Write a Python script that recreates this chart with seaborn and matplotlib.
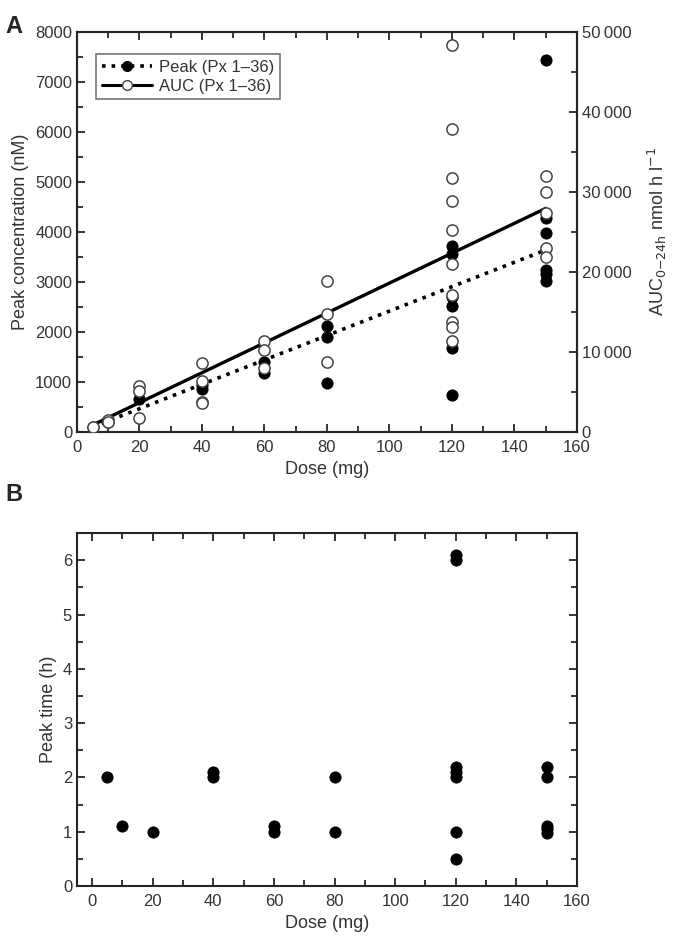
import matplotlib
matplotlib.use("Agg")
import pandas as pd
import matplotlib.pyplot as plt
import seaborn as sns
from matplotlib.ticker import MultipleLocator, FixedLocator
from matplotlib.lines import Line2D

# Panel A: peak concentration (nM), filled circles
peak_dose = [5, 10, 20, 40, 40, 60, 60, 80, 80, 80,
             120, 120, 120, 120, 120, 120,
             150, 150, 150, 150, 150, 150]
peak_conc = [100, 200, 660, 870, 950, 1410, 1180, 2120, 1910, 990,
             3720, 3570, 2700, 2520, 1690, 740,
             7440, 4290, 3990, 3250, 3170, 3030]

# Panel A: AUC 0-24h (nmol h/l), open circles
auc_dose = [5, 10, 10, 20, 20, 20, 40, 40, 40, 40, 60, 60, 60,
            80, 80, 80,
            120, 120, 120, 120, 120, 120, 120, 120, 120, 120,
            150, 150, 150, 150, 150]
auc_val = [625, 1500, 1250, 5800, 5170, 1750, 8630, 6420, 3800, 3690,
           11420, 10250, 8000,
           18920, 14750, 8750,
           48400, 37830, 31800, 28830, 25200, 21000, 17130, 13790, 13080, 11420,
           32000, 30040, 27420, 22960, 21920]

# fitted lines
fit_dose = [5, 150]
peak_fit = [100, 3640]
auc_fit = [875, 27960]

# Panel B: time to peak (h)
time_dose = [5, 10, 20, 40, 40, 60, 60, 80, 80,
             120, 120, 120, 120, 120, 120, 120,
             150, 150, 150, 150, 150]
peak_time = [2.0, 1.1, 1.0, 2.1, 2.0, 1.1, 1.0, 2.0, 1.0,
             6.1, 6.0, 2.2, 2.1, 2.0, 1.0, 0.5,
             2.2, 2.0, 1.1, 1.05, 0.97]

auc_ticks = [0, 10000, 20000, 30000, 40000, 50000]
auc_tick_labels = ["0", "10\u2009000", "20\u2009000", "30\u2009000", "40\u2009000", "50\u2009000"]

sns.set_style("ticks")
plt.rcParams['font.family'] = ['Liberation Sans', 'DejaVu Sans']
plt.rcParams['axes.linewidth'] = 1.5

peak_df = pd.DataFrame({"dose": peak_dose, "value": peak_conc})
auc_df = pd.DataFrame({"dose": auc_dose, "value": auc_val})
time_df = pd.DataFrame({"dose": time_dose, "value": peak_time})
fit_df = pd.DataFrame({"dose": fit_dose, "peak": peak_fit, "auc": auc_fit})

fig = plt.figure(figsize=(6.76, 9.4), dpi=100)
axA = fig.add_axes([0.1139, 0.5404, 0.7396, 0.4255])
axB = fig.add_axes([0.1139, 0.0574, 0.7396, 0.3755])

tick_col = "#333333"
ms = 65
fs_tick = 12
fs_lab = 13

# ---- panel A
sns.lineplot(data=fit_df, x="dose", y="peak", ax=axA, color="black",
             linestyle=":", linewidth=2.6, zorder=2)
sns.scatterplot(data=peak_df, x="dose", y="value", ax=axA, color="black",
                edgecolor="black", s=ms, zorder=3)
axA.set_xlim(0, 160)
axA.set_ylim(0, 8000)
axA.xaxis.set_major_locator(MultipleLocator(20))
axA.xaxis.set_minor_locator(MultipleLocator(10))
axA.yaxis.set_major_locator(MultipleLocator(1000))
axA.yaxis.set_minor_locator(MultipleLocator(500))
axA.tick_params(which="both", direction="in", top=True, right=False,
                width=1.3, labelsize=fs_tick, labelcolor=tick_col)
axA.tick_params(which="major", length=6)
axA.tick_params(which="minor", length=4)
axA.tick_params(axis="x", pad=6)
axA.set_xlabel("Dose (mg)", fontsize=fs_lab, color=tick_col)
axA.set_ylabel("Peak concentration (nM)", fontsize=fs_lab, color=tick_col)

ax2 = axA.twinx()
sns.lineplot(data=fit_df, x="dose", y="auc", ax=ax2, color="black",
             linestyle="-", linewidth=2.4, zorder=2)
sns.scatterplot(data=auc_df, x="dose", y="value", ax=ax2, facecolor="white",
                edgecolor="#444444", linewidth=1.1, s=ms, zorder=3)
ax2.set_ylim(0, 50000)
ax2.yaxis.set_major_locator(FixedLocator(auc_ticks))
ax2.set_yticklabels(auc_tick_labels)
ax2.yaxis.set_minor_locator(MultipleLocator(5000))
ax2.tick_params(which="both", direction="in", width=1.3, labelsize=fs_tick,
                labelcolor=tick_col)
ax2.tick_params(which="major", length=6)
ax2.tick_params(which="minor", length=4)
ax2.set_ylabel(r"AUC$_{0\mathrm{-}24\mathrm{h}}$ nmol h l$^{-1}$", fontsize=fs_lab,
               color=tick_col, labelpad=10)

handles = [
    Line2D([], [], color="black", linestyle=":", linewidth=2.6, marker="o",
           markersize=7, markerfacecolor="black", markeredgecolor="black"),
    Line2D([], [], color="black", linestyle="-", linewidth=2.2, marker="o",
           markersize=7, markerfacecolor="white", markeredgecolor="#444444"),
]
leg = ax2.legend(handles, ["Peak (Px 1\u201336)", "AUC (Px 1\u201336)"],
                 loc="upper left", bbox_to_anchor=(0.022, 0.965),
                 fontsize=12, frameon=True, fancybox=False, handlelength=3.0,
                 borderpad=0.35, labelspacing=0.2, handletextpad=0.4)
leg.get_frame().set_edgecolor("#444444")
leg.get_frame().set_linewidth(1.1)
for t in leg.get_texts():
    t.set_color(tick_col)

# ---- panel B
sns.scatterplot(data=time_df, x="dose", y="value", ax=axB, color="black",
                edgecolor="black", s=ms, zorder=3)
axB.set_xlim(-5, 160)
axB.set_ylim(0, 6.5)
axB.xaxis.set_major_locator(MultipleLocator(20))
axB.xaxis.set_minor_locator(MultipleLocator(10))
axB.yaxis.set_major_locator(MultipleLocator(1))
axB.yaxis.set_minor_locator(MultipleLocator(0.5))
axB.tick_params(which="both", direction="in", top=True, right=True,
                width=1.3, labelsize=fs_tick, labelcolor=tick_col)
axB.tick_params(which="major", length=6)
axB.tick_params(which="minor", length=4)
axB.tick_params(axis="x", pad=6)
axB.set_xlabel("Dose (mg)", fontsize=fs_lab, color=tick_col)
axB.set_ylabel("Peak time (h)", fontsize=fs_lab, color=tick_col)

fig.text(0.008, 0.984, "A", fontsize=17, fontweight="bold", va="top")
fig.text(0.008, 0.486, "B", fontsize=17, fontweight="bold", va="top")

fig.savefig("out.png", dpi=100)
